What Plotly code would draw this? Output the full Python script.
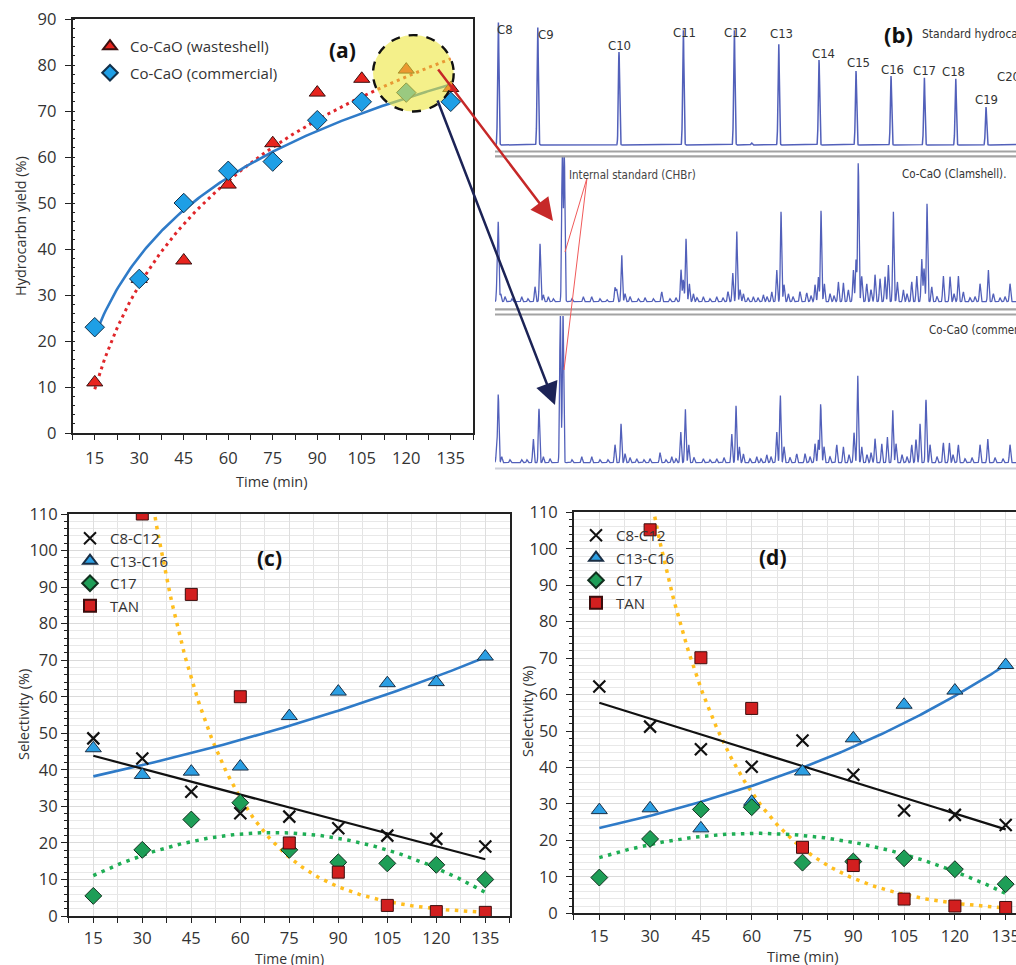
import numpy as np
import plotly.graph_objects as go

W, H = 1016, 965
def px(x): return x / W
def py(y): return 1 - y / H

# ---------------- data ----------------
time = [15, 30, 45, 60, 75, 90, 105, 120, 135]

# (a) hydrocarbon yield (%)
yield_wasteshell = [11, 33.5, 37.5, 54, 63, 74, 77, 79, 75]
yield_commercial = [23, 33.5, 50, 57, 59, 68, 72, 74, 72]

# (c) selectivity (%) - wasteshell catalyst (TAN at 15 min is off-scale)
c_c8_c12 = [48.6, 43.1, 34.0, 28.1, 27.2, 24.0, 22.0, 21.1, 19.0]
c_c13_c16 = [45.9, 38.6, 39.5, 40.9, 54.7, 61.4, 63.7, 64.0, 71.0]
c_c17 = [5.5, 18.1, 26.4, 31.0, 18.1, 14.7, 14.4, 14.0, 10.0]
c_tan = [147, 110, 88, 60, 20, 12, 2.9, 1.2, 1.0]

# (d) selectivity (%) - commercial catalyst
d_c8_c12 = [62.2, 51.2, 45.0, 40.2, 47.4, 38.0, 28.2, 27.0, 24.2]
d_c13_c16 = [28.3, 28.8, 23.3, 30.6, 38.9, 48.0, 57.2, 61.1, 68.1]
d_c17 = [9.8, 20.4, 28.5, 29.1, 13.9, 14.2, 15.1, 12.1, 8.0]
d_tan = [149, 105.2, 70.1, 56.2, 18.1, 13.1, 3.9, 2.0, 1.6]

# (b) chromatograms: retention position (a.u.) and peak intensity (a.u.)
std_names = ["C8", "C9", "C10", "C11", "C12", "C13", "C14", "C15", "C16", "C17", "C18", "C19", "C20"]
std_rt = [498.3, 537.7, 619, 683.3, 734.3, 778.7, 819, 856, 891, 924.3, 955.7, 986, 1018]
std_h = [124, 119, 93, 116, 116, 102, 85, 74, 69, 68, 67, 38, 61]
std_minor_rt = [751.7]
std_minor_h = [2]

clam_rt = [497.3, 498.3, 500.7, 505, 512, 521.7, 528, 535, 540, 543.3, 548.3, 553.3, 562.3, 564.3,
           572, 583.3, 591.7, 600, 607, 615, 616.7, 621.7, 625, 630, 638.3, 645, 653.3, 661.7, 670,
           676, 681, 683.3, 686, 689.3, 693.3, 697, 703.3, 710, 716.7, 723, 728, 732.7, 736.7, 740,
           743.3, 748, 753.3, 758, 763.3, 767, 771.7, 776.7, 781, 784, 788.3, 793, 800, 806.7, 811,
           815, 818.3, 821, 824.3, 830, 834, 838.3, 843.3, 848.3, 853.3, 856, 858.3, 861.7, 866.7,
           871, 875, 880, 885, 888.3, 893.3, 897.3, 903.3, 907, 911.7, 916.7, 921.7, 924, 927,
           931.7, 937, 943.3, 950, 954, 958.3, 963.3, 970, 975, 980, 988.3, 993.3, 1000, 1005, 1010]
clam_h = [28, 70, 8, 5, 3, 5, 3, 15, 58, 7, 5, 3, 150, 150,
          3, 5, 5, 3, 2, 14, 12, 47, 8, 5, 3, 4, 3, 10, 3,
          4, 32, 22, 63, 18, 8, 4, 5, 3, 5, 4, 10, 29, 71, 12,
          8, 4, 5, 4, 7, 5, 10, 32, 90, 17, 8, 5, 10, 9, 6,
          17, 25, 91, 18, 8, 6, 20, 19, 12, 32, 42, 140, 25, 18,
          12, 27, 23, 25, 37, 91, 20, 12, 8, 20, 26, 43, 33, 98,
          15, 5, 26, 25, 8, 26, 10, 4, 5, 18, 32, 8, 4, 5, 18]

comm_rt = [496.7, 498.3, 501.7, 510, 521.7, 527, 533.3, 539, 543.3, 550, 560.3, 563,
           572, 581.7, 591.7, 600, 608, 615, 621, 625, 630, 636.7, 644, 650, 660, 666, 671.7,
           676, 680.7, 685.3, 688.7, 694, 703.3, 710, 716.7, 724, 731.7, 736, 739.3, 743.3, 750,
           756.7, 761, 766.7, 771, 776.7, 780.3, 784, 790, 796.7, 805, 810, 815, 818.3, 820.7, 824,
           830, 836.7, 843.3, 849, 854, 857.7, 861.7, 867, 871, 875, 881.7, 887.3, 892.7, 896, 902,
           907, 911.7, 916, 920, 926, 930, 937, 943.3, 949.3, 953, 958.3, 965, 972, 980, 987.7,
           995, 1003, 1010]
comm_h = [13, 68, 6, 3, 3, 3, 24, 54, 6, 4, 150, 150,
          3, 6, 6, 3, 3, 18, 39, 9, 5, 4, 3, 4, 10, 3, 6,
          4, 31, 54, 18, 5, 4, 3, 4, 5, 29, 57, 16, 9, 4,
          6, 4, 8, 6, 31, 68, 16, 5, 9, 9, 6, 19, 23, 59, 16,
          6, 18, 16, 8, 30, 88, 16, 8, 10, 24, 19, 26, 53, 19, 8,
          6, 18, 23, 39, 63, 18, 6, 20, 20, 8, 18, 4, 5, 18, 24,
          5, 4, 18]

# ---------------- styles ----------------
FONT = "Open Sans, Segoe UI, Arial, sans-serif"
NARROW = "Liberation Sans Narrow, DejaVu Sans Condensed, Arial Narrow, sans-serif"
TXT = "#333333"
CHROM = "#5260BA"

fig = go.Figure()

t = np.array(time, dtype=float)
tf = np.linspace(15, 135, 200)

def logfit(y):
    b, a = np.polyfit(np.log(t), np.array(y, float), 1)
    return a + b * np.log(tf)

def linfit(y):
    b, a = np.polyfit(t, np.array(y, float), 1)
    return a + b * tf

def expfit(y):
    b, a = np.polyfit(t, np.log(np.array(y, float)), 1)
    return np.exp(a + b * tf)

def quadfit(y):
    c = np.polyfit(t, np.array(y, float), 2)
    return np.polyval(c, tf)

# ---------- (a) ----------
fig.add_trace(go.Scatter(x=tf, y=logfit(yield_wasteshell), mode="lines", xaxis="x", yaxis="y",
                         line=dict(color="#E0262A", width=3, dash="3px,4px"), showlegend=False, hoverinfo="skip"))
fig.add_trace(go.Scatter(x=tf, y=logfit(yield_commercial), mode="lines", xaxis="x", yaxis="y",
                         line=dict(color="#2F7BC8", width=2.6), showlegend=False, hoverinfo="skip"))
fig.add_trace(go.Scatter(x=time, y=yield_wasteshell, mode="markers", name="Co-CaO (wasteshell)",
                         xaxis="x", yaxis="y", legend="legend", legendgroup="w",
                         marker=dict(symbol="triangle-up", size=14, color="#E8241E",
                                     line=dict(color="#3A1010", width=1))))
fig.add_trace(go.Scatter(x=time, y=yield_commercial, mode="markers", name="Co-CaO (commercial)",
                         xaxis="x", yaxis="y", legend="legend", legendgroup="c",
                         marker=dict(symbol="diamond", size=15, color="#1E9FE6",
                                     line=dict(color="#12304A", width=1))))

# ---------- (c) and (d) ----------
def sel_panel(xa, ya, leg, c812, c1316, c17, tan):
    fig.add_trace(go.Scatter(x=tf, y=expfit(tan), mode="lines", xaxis=xa, yaxis=ya,
                             line=dict(color="#FFBE1E", width=3.5, dash="3.5px,5.5px"),
                             showlegend=False, hoverinfo="skip"))
    fig.add_trace(go.Scatter(x=tf, y=quadfit(c17), mode="lines", xaxis=xa, yaxis=ya,
                             line=dict(color="#1FAE55", width=3.5, dash="3.5px,5.5px"),
                             showlegend=False, hoverinfo="skip"))
    fig.add_trace(go.Scatter(x=tf, y=expfit(c1316), mode="lines", xaxis=xa, yaxis=ya,
                             line=dict(color="#2F7BC8", width=2.6), showlegend=False, hoverinfo="skip"))
    fig.add_trace(go.Scatter(x=tf, y=linfit(c812), mode="lines", xaxis=xa, yaxis=ya,
                             line=dict(color="#111111", width=2.2), showlegend=False, hoverinfo="skip"))
    fig.add_trace(go.Scatter(x=time, y=c812, mode="markers", name="C8-C12", xaxis=xa, yaxis=ya, legend=leg,
                             marker=dict(symbol="x-thin", size=12, color="#111111",
                                         line=dict(color="#111111", width=2.2))))
    fig.add_trace(go.Scatter(x=time, y=c1316, mode="markers", name="C13-C16", xaxis=xa, yaxis=ya, legend=leg,
                             marker=dict(symbol="triangle-up", size=14, color="#2C9FE3",
                                         line=dict(color="#1A2E44", width=1))))
    fig.add_trace(go.Scatter(x=time, y=c17, mode="markers", name="C17", xaxis=xa, yaxis=ya, legend=leg,
                             marker=dict(symbol="diamond", size=13, color="#1E9E57",
                                         line=dict(color="#11301E", width=1))))
    fig.add_trace(go.Scatter(x=time, y=tan, mode="markers", name="TAN", xaxis=xa, yaxis=ya, legend=leg,
                             marker=dict(symbol="square", size=12, color="#D21F1F",
                                         line=dict(color="#3A0D0D", width=1))))

sel_panel("x2", "y2", "legend2", c_c8_c12, c_c13_c16, c_c17, c_tan)
sel_panel("x3", "y3", "legend3", d_c8_c12, d_c13_c16, d_c17, d_tan)

# ---------- (b) chromatograms ----------
xg = np.arange(495, 1016.01, 0.2)
def chrom(rts, hs, sigma=0.65):
    s = np.zeros_like(xg)
    for p, h in zip(rts, hs):
        s += h * np.exp(-0.5 * ((xg - p) / sigma) ** 2)
    return s

fig.add_trace(go.Scatter(x=xg, y=chrom(std_rt + std_minor_rt, std_h + std_minor_h), mode="lines",
                         xaxis="x4", yaxis="y4", line=dict(color=CHROM, width=1.5),
                         showlegend=False, hoverinfo="skip"))
fig.add_trace(go.Scatter(x=xg, y=chrom(clam_rt, clam_h), mode="lines",
                         xaxis="x5", yaxis="y5", line=dict(color=CHROM, width=1.3),
                         showlegend=False, hoverinfo="skip"))
fig.add_trace(go.Scatter(x=xg, y=chrom(comm_rt, comm_h), mode="lines",
                         xaxis="x6", yaxis="y6", line=dict(color=CHROM, width=1.3),
                         showlegend=False, hoverinfo="skip"))

# ---------------- axes ----------------
cat_bounds = [7.5 + 15 * k for k in range(10)]
tick_txt = [str(v) for v in time]
TICKSZ = 16.5

def xcat(domain, rng, anchor, grid, standoff, mirror=True):
    return dict(domain=domain, range=rng, anchor=anchor, tickvals=time, ticktext=tick_txt,
                ticks="outside", ticklen=5, tickcolor="#222", tickwidth=1.3,
                showline=True, linecolor="#222", linewidth=1.6, mirror=mirror,
                showgrid=grid, gridcolor="#DEDEDE", gridwidth=1, zeroline=False, automargin=False,
                ticklabeloverflow="allow",
                tickfont=dict(family=FONT, size=TICKSZ, color=TXT), ticklabelstandoff=standoff,
                minor=dict(tickvals=cat_bounds, ticks="outside", ticklen=5, tickcolor="#222",
                           showgrid=grid, gridcolor="#E4E4E4"))

def ylin(domain, rng, anchor, grid, minor_ticks, standoff, mirror=True):
    return dict(domain=domain, range=rng, anchor=anchor, dtick=10, tick0=0,
                ticks="outside", ticklen=6, tickcolor="#222", tickwidth=1.3,
                showline=True, linecolor="#222", linewidth=1.6, mirror=mirror,
                showgrid=grid, gridcolor="#DADADA", zeroline=False, automargin=False,
                ticklabeloverflow="allow",
                tickfont=dict(family=FONT, size=TICKSZ, color=TXT), ticklabelstandoff=standoff,
                minor=dict(dtick=2, ticks=minor_ticks, ticklen=3, tickcolor="#222",
                           showgrid=grid, gridcolor="#E8E8E8"))

hidden = dict(visible=False, showgrid=False, zeroline=False, fixedrange=True, automargin=False)

layout = dict(
    width=W, height=H, margin=dict(l=0, r=0, t=0, b=0, autoexpand=False),
    paper_bgcolor="white", plot_bgcolor="rgba(0,0,0,0)",
    xaxis=xcat([px(72.5), px(473)], [7.5, 142.5], "y", False, 4),
    yaxis=ylin([py(433), py(19)], [0, 90], "x", False, "inside", 5),
    xaxis2=xcat([px(68.8), px(509.8)], [7.5, 142.5], "y2", True, 1),
    yaxis2=ylin([py(916), py(514)], [0, 110], "x2", True, "outside", 0),
    xaxis3=xcat([px(573.9), 1.0], [7.5, 138.04], "y3", True, 2),
    yaxis3=ylin([py(913.3), py(512.3)], [0, 110], "x3", True, "outside", 5, mirror=False),
    xaxis4=dict(domain=[px(495), 1.0], range=[495, 1016], anchor="y4", **hidden),
    yaxis4=dict(domain=[py(150), 1.0], range=[-5, 145], anchor="x4", **hidden),
    xaxis5=dict(domain=[px(495), 1.0], range=[495, 1016], anchor="y5", **hidden),
    yaxis5=dict(domain=[py(308), py(157)], range=[-6.3, 144.7], anchor="x5", **hidden),
    xaxis6=dict(domain=[px(495), 1.0], range=[495, 1016], anchor="y6", **hidden),
    yaxis6=dict(domain=[py(468), py(316)], range=[-5.3, 146.7], anchor="x6", **hidden),
    legend=dict(x=px(90), y=py(30), xanchor="left", yanchor="top", bgcolor="rgba(0,0,0,0)",
                font=dict(family=FONT, size=15, color=TXT), tracegroupgap=4, itemsizing="constant"),
    legend2=dict(x=px(70), y=py(522), xanchor="left", yanchor="top", bgcolor="rgba(0,0,0,0)",
                 font=dict(family=FONT, size=15, color=TXT), itemsizing="constant"),
    legend3=dict(x=px(576), y=py(519), xanchor="left", yanchor="top", bgcolor="rgba(0,0,0,0)",
                 font=dict(family=FONT, size=15, color=TXT), itemsizing="constant"),
)
fig.update_layout(**layout)

# ---------------- shapes ----------------
shapes = []
def pline(x0, y0, x1, y1, color, width, dash=None):
    d = dict(type="line", xref="paper", yref="paper", x0=px(x0), y0=py(y0), x1=px(x1), y1=py(y1),
             line=dict(color=color, width=width), layer="above")
    if dash:
        d["line"]["dash"] = dash
    shapes.append(d)

for yy in (151.5, 156.3, 309.3, 314.5):
    pline(495, yy, 1016, yy, "#A3A3A3", 2.2)
pline(495, 468.5, 1016, 468.5, "#CDD0DA", 2.2)
# internal standard pointer lines
pline(587, 178, 565, 252, "#F05A5A", 1)
pline(587, 178, 564, 370, "#F05A5A", 1)
# highlight circle in (a)
shapes.append(dict(type="circle", xref="x", yref="y", x0=122.4 - 13.6, x1=122.4 + 13.6,
                   y0=78.2 - 8.3, y1=78.2 + 8.3, fillcolor="rgba(236,230,60,0.6)",
                   line=dict(color="#111111", width=2.4, dash="dash"), layer="above"))
fig.update_layout(shapes=shapes)

# ---------------- annotations ----------------
ann = []
def ptext(x, y, text, size, family=FONT, color=TXT, xanchor="center", angle=0, bold=False):
    ann.append(dict(xref="paper", yref="paper", x=px(x), y=py(y), text=(f"<b>{text}</b>" if bold else text),
                    showarrow=False, xanchor=xanchor, yanchor="middle", textangle=angle,
                    font=dict(family=family, size=size, color=color)))

ptext(342.5, 50, "(a)", 21, color="#111", bold=True)
ptext(269, 558, "(c)", 21, color="#111", bold=True)
ptext(772.5, 557, "(d)", 21, color="#111", bold=True)
ptext(898, 34, "(b)", 22, color="#111", bold=True)
ptext(272, 481, "Time (min)", 14.5)
ptext(20, 226, "Hydrocarbn yield (%)", 14.5, angle=-90)
ptext(289, 958, "Time (min)", 14)
ptext(23, 715, "Selectivity (%)", 14.5, angle=-90)
ptext(803, 956.5, "Time (min)", 14.5)
ptext(527, 712, "Selectivity (%)", 14.5, angle=-90)
ptext(920, 34, "Standard hydrocarbon", 12, family=NARROW, xanchor="left")
ptext(567, 175, "Internal standard (CHBr)", 11.5, family=NARROW, color="#444", xanchor="left")
ptext(1008, 174, "Co-CaO (Clamshell).", 11.5, family=NARROW, xanchor="right")
ptext(926.7, 330, "Co-CaO (commercial)", 11.5, family=NARROW, xanchor="left")

# peak labels of the standard chromatogram (offsets in screen pixels)
lab_dx = [7, 8.3, 0, 1.4, 1, 3, 4, 2.3, 1, 0.2, -2, 0, -8]
lab_dy = [-8, -8.5, 7, -3.5, -3, 10, 7, 8.5, 7, 6.7, 6.6, 8, 8]
for name, r, h, dx, dy in zip(std_names, std_rt, std_h, lab_dx, lab_dy):
    ann.append(dict(xref="x4", yref="y4", x=min(r, 1016), y=h, text=name, showarrow=False,
                    xshift=dx, yshift=dy, xanchor="center", yanchor="middle",
                    font=dict(family=NARROW, size=13, color="#333")))

# arrows from the highlight circle to the chromatograms
ann.append(dict(xref="paper", yref="paper", x=px(553), y=py(221), ax=437 - 553, ay=68 - 221,
                axref="pixel", ayref="pixel", text="", showarrow=True, arrowhead=2,
                arrowsize=1.8, arrowwidth=2.5, arrowcolor="#C62828"))
ann.append(dict(xref="paper", yref="paper", x=px(555), y=py(405), ax=437 - 555, ay=99 - 405,
                axref="pixel", ayref="pixel", text="", showarrow=True, arrowhead=2,
                arrowsize=1.8, arrowwidth=2.5, arrowcolor="#1C2356"))
fig.update_layout(annotations=ann)

fig.write_html("out.html")
